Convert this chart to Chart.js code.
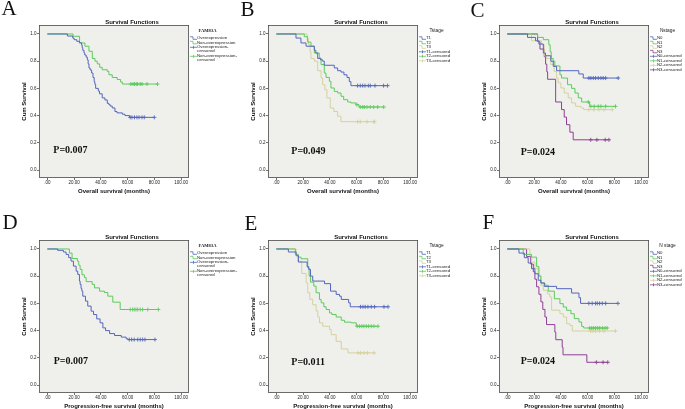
<!DOCTYPE html>
<html><head><meta charset="utf-8">
<script src="https://cdn.jsdelivr.net/npm/chart.js@4.4.1/dist/chart.umd.min.js"></script>
<style>
html,body{margin:0;padding:0;background:#fff;width:685px;height:409px;overflow:hidden;position:relative}
canvas{position:absolute}
.lab{position:absolute;font-family:'Liberation Serif','Times New Roman',serif;font-size:21px;line-height:21px;color:#111}
</style></head><body>
<script>
// ---------- DATA ----------
const xTickValues=[0,20,40,60,80,100];
const xTickLabels=['.00','20.00','40.00','60.00','80.00','100.00'];
const yTickValues=[0,0.2,0.4,0.6,0.8,1.0];
const yTickLabels=['0.0','0.2','0.4','0.6','0.8','1.0'];
const panelLetters=['A','B','C','D','E','F'];
const osTitle='Overall survival (months)';
const pfsTitle='Progression-free survival (months)';
const yTitle='Cum Survival';
const chartTitle='Survival Functions';
const pValues=['P=0.007','P=0.049','P=0.024','P=0.007','P=0.011','P=0.024'];
const legendTitles=['FAM83A','Tstage','Nstage','FAM83A','Tstage','N stage'];
const famLabels=['Overexpression','Non-overexpression'];
const tLabels=['T1','T2','T3'];
const nLabels=['N0','N1','N2','N3'];

// Panel A - overall survival by FAM83A
const aOverT=[0,15,19,20,22,24,25.6,26,26.5,27.4,28,29,29.9,30.5,31.1,32,33.1,34.1,35,35.5,36.1,38.1,39,41,43,44.8,46,47,48.5,50.5,52,56,58,61.4];
const aOverS=[1,0.985,0.97,0.958,0.946,0.935,0.92,0.9,0.88,0.86,0.845,0.83,0.81,0.78,0.75,0.735,0.713,0.68,0.65,0.63,0.6,0.58,0.56,0.53,0.515,0.49,0.48,0.47,0.456,0.43,0.42,0.41,0.4,0.387];
const aOverC=[61.9,63.2,65.1,66.9,68.5,70.7,72.4,79.9];
const aNonT=[0,19.2,24.1,28.1,31.1,33.6,35.6,37.3,39.1,41,44.8,46,48.5,52.2,54.7,56];
const aNonS=[1,0.983,0.934,0.91,0.873,0.82,0.8,0.78,0.755,0.737,0.725,0.7,0.68,0.665,0.647,0.632];
const aNonC=[62.4,64,65.1,66.4,67.4,69.4,70.7,74.4,82.3];

// Panel B - overall survival by T stage
const bT1T=[0,14.7,18.4,22.2,28.4,29.5,30.9,33,34.6,35.8,43.3,45.8,48.3,50.5,52.8,54.5,55.7];
const bT1S=[1,0.97,0.934,0.91,0.88,0.86,0.82,0.81,0.8,0.77,0.75,0.73,0.72,0.7,0.68,0.65,0.62];
const bT1C=[60.7,62.7,64.5,66.2,68.7,70.2,73.7,80.1,83.1];
const bT2T=[0,20.9,23.4,25.9,28.4,32.1,33.4,35.8,37.1,39.6,40.8,43.3,45.8,48.3,50.3,53.3,55.7,59.5,61.8];
const bT2S=[1,0.98,0.94,0.91,0.86,0.823,0.775,0.713,0.681,0.652,0.603,0.578,0.566,0.542,0.517,0.5,0.493,0.48,0.463];
const bT2C=[60.2,62.7,64.5,65.7,67.7,70.1,72.7,75.7,80.2];
const bT3T=[0,23,24,25.2,25.9,28.4,30.9,33.4,34.6,36.3,37.8,40.3,43,45.8,48.3];
const bT3S=[1,0.96,0.92,0.87,0.82,0.8,0.73,0.676,0.627,0.59,0.53,0.456,0.43,0.395,0.355];
const bT3C=[60.7,62.7,67.7,72.7,73.4];

// Panel C - overall survival by N stage
const cN0T=[0,15.1,21.1,23.6,26.9,28.5,32.5,34.3,36.8,53.4,56.7];
const cN0S=[1,0.975,0.95,0.926,0.86,0.84,0.8,0.762,0.73,0.706,0.676];
const cN0C=[60.9,62.4,64.2,65.9,67.9,69.9,71.6,73.4,82.8];
const cN1T=[0,22.6,26.9,31,32,32.8,34.3,35.5,39.3,40.5,45,48,50.5,53,55.5,61.5];
const cN1S=[1,0.975,0.958,0.92,0.87,0.82,0.8,0.765,0.7,0.676,0.627,0.6,0.566,0.53,0.5,0.468];
const cN1C=[60.5,62.4,64.9,67.9,69.9,73.4,80.8];
const cN2T=[0,18.1,25.6,27.6,29.3,32.5,35,36.8,38,40,42.5,45.5,48,51,55,57];
const cN2S=[1,0.95,0.92,0.84,0.82,0.775,0.725,0.676,0.64,0.603,0.566,0.53,0.493,0.468,0.456,0.444];
const cN2C=[60.9,64.7,68.4,72.1,78.4];
const cN3T=[0,22.6,24.4,27.6,28.6,29.5,30.1,36.1,40.5,42.5,44.2,46.7,49.2];
const cN3S=[1,0.944,0.889,0.833,0.778,0.722,0.667,0.5,0.444,0.389,0.333,0.278,0.222];
const cN3C=[62.3,66.9,73.1,75.9];

// Panel D - progression-free survival by FAM83A
const dOverT=[0,7.7,12,14,16,17.7,19.5,21.5,22.7,24,24.5,25.2,25.8,26.5,28.5,30.2,32.7,34.5,36.9,39.4,41.5,43.5,46.5,50.2,55.2,58.9,60.2];
const dOverS=[1,0.99,0.978,0.96,0.936,0.911,0.874,0.837,0.813,0.764,0.74,0.71,0.69,0.653,0.617,0.58,0.543,0.518,0.486,0.457,0.42,0.4,0.378,0.364,0.352,0.34,0.334];
const dOverC=[61.2,63,64.9,67.5,69.4,71.2,72.9,80.4];
const dNonT=[0,16.5,18.5,22.5,23.5,24.5,25.9,27.7,29,33.5,35.2,39,42.7,45.2,48.9,54.4];
const dNonS=[1,0.97,0.93,0.91,0.88,0.85,0.81,0.79,0.76,0.74,0.714,0.69,0.68,0.653,0.609,0.555];
const dNonC=[61.9,63.7,64.9,66.2,67.5,69.4,71.2,75,82.9];

// Panel E - progression-free survival by T stage
const eT1T=[0,9,14.8,16.5,23,24.2,25.5,27.2,36,40.5,44.7,47.2,48.5,54,55.2];
const eT1S=[1,0.978,0.95,0.904,0.87,0.85,0.801,0.764,0.745,0.69,0.666,0.653,0.629,0.604,0.575];
const eT1C=[62.9,64.7,66.4,68.4,70.9,73.4,80.4,83.4];
const eT2T=[0,14.2,16.5,18.5,23.5,24.5,25.5,28,29.7,32.2,33.5,35.5,37.2,39.7,41.5,44.7,48.5,50.9,55.9,59.7];
const eT2S=[1,0.96,0.94,0.928,0.862,0.8,0.756,0.727,0.678,0.629,0.604,0.575,0.555,0.53,0.518,0.5,0.476,0.462,0.457,0.432];
const eT2C=[60.4,62.2,63.9,65.4,67.2,68.9,70.9,72.9,75.9];
const eT3T=[0,14.8,16,19,22.3,23.5,25,27.2,29.7,31,32.2,34.7,39.7,41,44.7,48.5,53.5];
const eT3S=[1,0.96,0.91,0.82,0.75,0.678,0.63,0.59,0.545,0.5,0.457,0.432,0.408,0.37,0.321,0.265,0.236];
const eT3C=[61,62.9,65.5,68,73];

// Panel F - progression-free survival by N stage
const fN0T=[0,8.7,12.7,15.6,18.1,20.6,23.1,25.1,27.6,36.8,48,53.5,54.7];
const fN0S=[1,0.97,0.936,0.897,0.855,0.818,0.77,0.75,0.725,0.708,0.676,0.642,0.6];
const fN0C=[60.9,63.4,65.9,67.2,68.9,70.9,73.4,82.6];
const fN1T=[0,11.9,18.1,21.9,23.6,25.1,28.1,30.6,35.1,39.3,41.8,44.3,47.5,50,53.5,55.5,57];
const fN1S=[1,0.96,0.94,0.87,0.8,0.75,0.733,0.69,0.634,0.598,0.573,0.549,0.524,0.488,0.463,0.431,0.419];
const fN1C=[61.5,63,64.5,66,67.5,69,71,73,74.6];
const fN2T=[0,16.9,18.1,20.6,23.1,25.1,26.9,30,31.8,33.1,39.3,41.8,44.3,46.8,48.5];
const fN2S=[1,0.95,0.904,0.855,0.806,0.733,0.696,0.67,0.647,0.55,0.524,0.5,0.45,0.438,0.397];
const fN2C=[62.2,63.9,65.9,68.9,72.1,80.8];
const fN3T=[0,14.4,17.5,19.4,20.6,21.9,23.6,25.1,26.5,28.1,29.3,35.5,36.2,41,41.6,59.4];
const fN3S=[1,0.944,0.889,0.833,0.778,0.722,0.667,0.611,0.556,0.5,0.444,0.389,0.333,0.278,0.222,0.167];
const fN3C=[66.5,71.5,75];

// ---------- PANELS ----------
const panelData=[
 {labels:famLabels,xTitle:osTitle,groups:[[aOverT,aOverS,aOverC],[aNonT,aNonS,aNonC]]},
 {labels:tLabels,xTitle:osTitle,groups:[[bT1T,bT1S,bT1C],[bT2T,bT2S,bT2C],[bT3T,bT3S,bT3C]]},
 {labels:nLabels,xTitle:osTitle,groups:[[cN0T,cN0S,cN0C],[cN1T,cN1S,cN1C],[cN2T,cN2S,cN2C],[cN3T,cN3S,cN3C]]},
 {labels:famLabels,xTitle:pfsTitle,groups:[[dOverT,dOverS,dOverC],[dNonT,dNonS,dNonC]]},
 {labels:tLabels,xTitle:pfsTitle,groups:[[eT1T,eT1S,eT1C],[eT2T,eT2S,eT2C],[eT3T,eT3S,eT3C]]},
 {labels:nLabels,xTitle:pfsTitle,groups:[[fN0T,fN0S,fN0C],[fN1T,fN1S,fN1C],[fN2T,fN2S,fN2C],[fN3T,fN3S,fN3C]]}
];

// ---------- STYLE / LAYOUT ----------
const palette=['#5466bd','#5ccb5c','#d6d19c','#8e3f94'];
const BG='#eff0ec';
const SANS='"Liberation Sans", Arial, sans-serif';
const SERIF='"Liberation Serif", "Times New Roman", serif';
const geom=[
 {left:0,top:0,w:245,pDx:14.3,pDy:28,lx:1.5,ly:-1.7},
 {left:229,top:0,w:229,pDx:23.3,pDy:26.3,lx:240.5,ly:-0.7},
 {left:460,top:0,w:225,pDx:21.7,pDy:25.3,lx:470.5,ly:0.3},
 {left:0,top:215,w:245,pDx:14.7,pDy:31.6,lx:2.5,ly:212},
 {left:229,top:215,w:229,pDx:23.3,pDy:31,lx:244.5,ly:213.3},
 {left:460,top:215,w:225,pDx:21.7,pDy:31.6,lx:482.5,ly:212.3}
];
const CANVAS_H=195, AREA_LEFT=39, AREA_W=150, AREA_TOP=25;

function stepAt(t,s,x){let v=s[0];for(let i=0;i<t.length;i++){if(t[i]<=x)v=s[i];}return v;}

function drawLegend(ctx,a,idx){
  const pd=panelData[idx];
  const ttl=legendTitles[idx];
  ctx.save();
  ctx.fillStyle='#222';ctx.textBaseline='middle';ctx.textAlign='center';
  ctx.font=(ttl==='FAM83A'?'bold 4.6px '+SERIF:'4.8px '+SANS);
  ctx.fillText(ttl,a.right+18.5,a.top+6);
  ctx.textAlign='left';ctx.font='4.3px '+SANS;
  const entries=[];
  pd.labels.forEach((l,i)=>entries.push({lines:[l],col:palette[i],cens:false}));
  pd.labels.forEach((l,i)=>entries.push({lines:l.length>3?[l+'-','censored']:[l+'-censored'],col:palette[i],cens:true}));
  let line=0;
  entries.forEach(e=>{
    const y=a.top+13.3+4.5*line;
    const x0=a.right+1;
    ctx.strokeStyle=e.col;ctx.lineWidth=0.8;ctx.beginPath();
    if(e.cens){
      ctx.moveTo(x0,y);ctx.lineTo(x0+7,y);
      ctx.moveTo(x0+3.5,y-1.5);ctx.lineTo(x0+3.5,y+1.5);
    }else{
      ctx.moveTo(x0,y-1.5);ctx.lineTo(x0+3,y-1.5);ctx.lineTo(x0+3,y+1);ctx.lineTo(x0+7,y+1);
    }
    ctx.stroke();
    e.lines.forEach((t,k)=>{ctx.fillText(t,a.right+8,y+3.6*k);});
    line+=e.lines.length;
  });
  ctx.restore();
}

function build(idx){
  const pd=panelData[idx], g=geom[idx];
  const cv=document.createElement('canvas');
  cv.width=g.w;cv.height=CANVAS_H;
  cv.style.left=g.left+'px';cv.style.top=g.top+'px';
  cv.style.width=g.w+'px';cv.style.height=CANVAS_H+'px';
  document.body.appendChild(cv);
  const datasets=[];
  pd.groups.forEach((gr,i)=>{
    const [t,s,c]=gr;
    const pts=t.map((x,j)=>({x:x,y:s[j]}));
    const lastC=Math.max(...c);
    if(lastC>t[t.length-1]) pts.push({x:lastC,y:s[s.length-1]});
    datasets.push({data:pts,borderColor:palette[i],borderWidth:1,stepped:'before',pointRadius:0,fill:false,order:2});
  });
  pd.groups.forEach((gr,i)=>{
    const [t,s,c]=gr;
    datasets.push({data:c.map(x=>({x:x,y:stepAt(t,s,x)})),showLine:false,pointStyle:'cross',pointRadius:2,
      pointBorderWidth:0.9,pointBorderColor:palette[i],borderColor:palette[i],backgroundColor:palette[i],order:1});
  });
  const tickFont={family:SANS,size:4.5};
  const titleFont={family:SANS,size:6,weight:'bold'};
  new Chart(cv,{
    type:'line',
    data:{datasets},
    options:{
      responsive:false,animation:false,devicePixelRatio:1,
      layout:{padding:{left:0,top:AREA_TOP,right:g.w-AREA_LEFT-AREA_W,bottom:0}},
      plugins:{legend:{display:false},tooltip:{enabled:false},title:{display:false}},
      scales:{
        x:{type:'linear',min:-6.2,max:105.8,
          afterBuildTicks:s=>{s.ticks=xTickValues.map(v=>({value:v}));},
          afterFit:s=>{s.height=CANVAS_H-AREA_TOP-153;},
          ticks:{autoSkip:false,maxRotation:0,minRotation:0,padding:0,color:'#222',font:tickFont,callback:(v,i)=>xTickLabels[i]},
          grid:{drawOnChartArea:false,drawTicks:true,tickLength:2,color:'#333',lineWidth:0.7},
          border:{display:false},
          title:{display:true,text:pd.xTitle,color:'#111',font:titleFont,padding:{top:0,bottom:0}}
        },
        y:{type:'linear',min:-0.0588,max:1.066,
          afterBuildTicks:s=>{s.ticks=yTickValues.map(v=>({value:v}));},
          afterFit:s=>{s.width=AREA_LEFT;},
          ticks:{autoSkip:false,padding:0.5,color:'#222',font:tickFont,callback:(v,i)=>yTickLabels[i]},
          grid:{drawOnChartArea:false,drawTicks:true,tickLength:2,color:'#333',lineWidth:0.7},
          border:{display:false},
          title:{display:true,text:yTitle,color:'#111',font:titleFont,padding:{top:21,bottom:0}}
        }
      }
    },
    plugins:[{
      id:'deco',
      beforeDraw(c){const a=c.chartArea,x=c.ctx;x.save();x.fillStyle=BG;x.fillRect(a.left,a.top,a.right-a.left,a.bottom-a.top);x.restore();},
      beforeDatasetsDraw(c){const a=c.chartArea,x=c.ctx;x.save();x.strokeStyle='#4a4a4a';x.lineWidth=0.8;
        x.strokeRect(a.left+0.4,a.top+0.4,a.right-a.left-0.8,a.bottom-a.top-0.8);x.restore();},
      afterDraw(c){
        const a=c.chartArea,x=c.ctx;
        x.save();
        x.fillStyle='#111';x.textAlign='center';x.textBaseline='alphabetic';
        x.font='bold 6px '+SANS;
        x.fillText(chartTitle,(a.left+a.right)/2+18,a.top-1.3);
        x.textAlign='left';x.textBaseline='middle';
        x.font='bold 10px '+SERIF;
        x.fillText(pValues[idx],a.left+g.pDx,a.bottom-g.pDy);
        x.restore();
        drawLegend(x,a,idx);
      }
    }]
  });
  const d=document.createElement('div');
  d.className='lab';d.textContent=panelLetters[idx];
  d.style.left=g.lx+'px';d.style.top=g.ly+'px';
  document.body.appendChild(d);
}
for(let i=0;i<6;i++) build(i);
</script>
</body></html>
